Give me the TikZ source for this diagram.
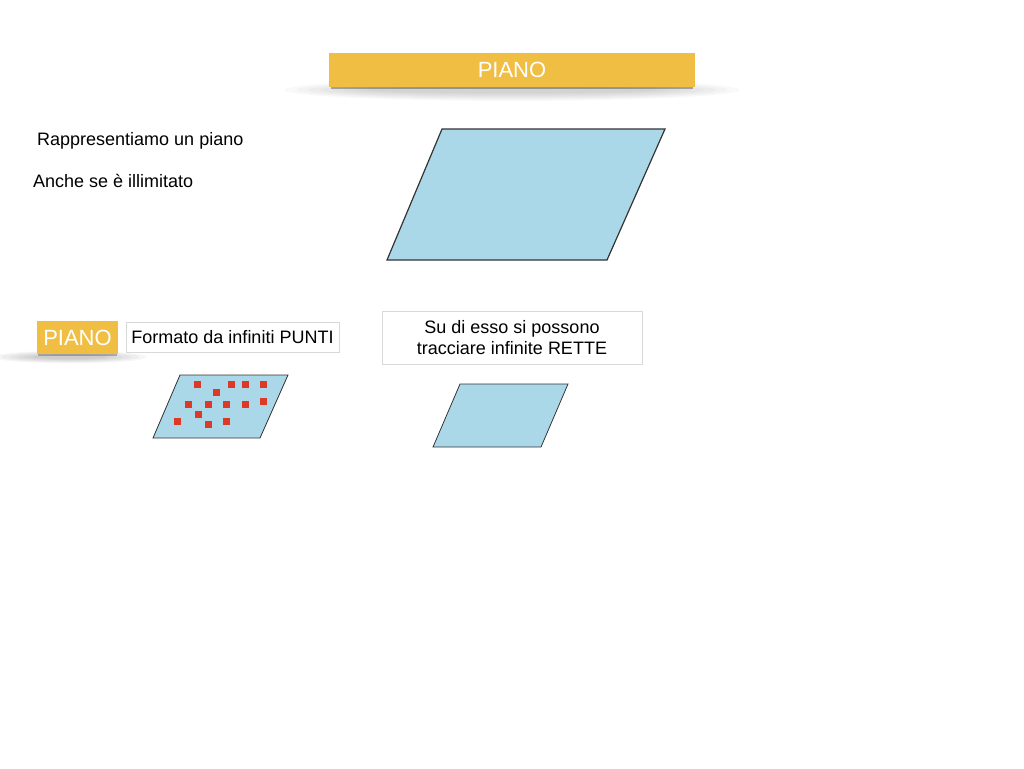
\documentclass[tikz,border=0pt]{standalone}
\usepackage{fontspec}
\setmainfont{Liberation Sans}
\definecolor{barY}{HTML}{EFBE42}
\definecolor{planeB}{HTML}{AAD8E9}
\definecolor{dotR}{HTML}{DC3A26}
\definecolor{boxG}{HTML}{D8D8D8}
\tikzset{
  plane/.style={fill=planeB,draw=black!80,line width=0.8pt,line join=miter},
  dot/.style={fill=dotR,draw=none,minimum size=7pt,inner sep=0pt,rectangle},
  body/.style={font=\fontsize{18}{21}\selectfont,text=black,inner sep=0pt,anchor=west},
  tagbox/.style={draw=boxG,line width=0.8pt,fill=white,font=\fontsize{18}{21}\selectfont,align=center,inner sep=0pt},
  ybar/.style={fill=barY,draw=none,inner sep=0pt,text=white,font=\fontsize{22}{26}\selectfont}
}
\begin{document}
\begin{tikzpicture}[x=1pt,y=-1pt]
\useasboundingbox (0,0) rectangle (1024,768);
% title shadow
\foreach \i in {1,...,8}{
  \fill[black,opacity=0.025] (512,90) ellipse ({240-\i*12} and {12-\i*1.1});
}
\fill[black,opacity=0.3] (331,86) rectangle (693,89);
\node[ybar,minimum width=366pt,minimum height=34pt] (title) at (512,70) {PIANO};

\node[body] (t1) at (37,141) {Rappresentiamo un piano};
\node[body] (t2) at (33,181) {Anche se è illimitato};

\draw[plane,line width=1.2pt] (442,129) coordinate (bA) -- (665,129) coordinate (bB) -- (607,260) coordinate (bC) -- (387,260) coordinate (bD) -- cycle;

% small PIANO label shadow
\foreach \i in {1,...,6}{
  \fill[black,opacity=0.035] (70,357) ellipse ({85-\i*8} and {7-\i*0.8});
}
\fill[black,opacity=0.25] (38,353) rectangle (117,356);
\node[ybar,minimum width=81pt,minimum height=33pt] (p2) at (77.5,337.5) {PIANO};
\node[tagbox,minimum width=213pt,minimum height=30pt] (f1) at (232.5,337) {Formato da infiniti PUNTI};
\node[tagbox,minimum width=260pt,minimum height=53pt] (f2) at (512,337.5) {Su di esso si possono\\tracciare infinite RETTE};

\draw[plane] (180,375) coordinate (sA) -- (288,375) coordinate (sB) -- (260,438) coordinate (sC) -- (153,438) coordinate (sD) -- cycle;
\foreach \p [count=\k] in {(197,384),(231,384),(245,384),(263,384),(216,392),(188,404),(208,404),(226,404),(245,404),(263,401),(198,414),(177,421),(208,424),(226,421)}{
  \node[dot] (d\k) at \p {};
}
\draw[plane] (460,384) coordinate (rA) -- (568,384) coordinate (rB) -- (541,447) coordinate (rC) -- (433,447) coordinate (rD) -- cycle;
\end{tikzpicture}
\end{document}
